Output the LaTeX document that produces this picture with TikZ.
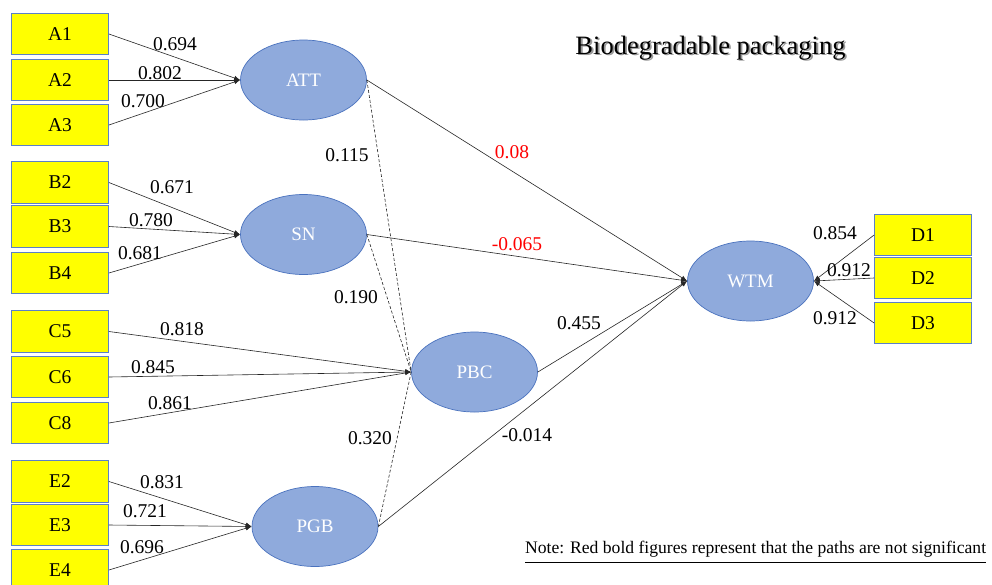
\documentclass[tikz,border=0pt]{standalone}
\usepackage{fontspec}
\setmainfont{Liberation Serif}
\usetikzlibrary{shapes.geometric,arrows.meta}
\definecolor{boxyellow}{HTML}{FFFF00}
\definecolor{boxborder}{HTML}{5B80C8}
\definecolor{ellfill}{HTML}{8FAADC}
\definecolor{ellborder}{HTML}{4A72BE}
\definecolor{sigred}{HTML}{FF0000}
\begin{document}
\begin{tikzpicture}[x=1pt,y=-1pt,
  ind/.style={draw=boxborder,fill=boxyellow,line width=0.8pt,minimum width=97pt,minimum height=41.5pt,inner sep=0pt,font=\fontsize{19.5}{21}\selectfont},
  lat/.style={ellipse,draw=ellborder,fill=ellfill,line width=0.7pt,minimum width=126pt,minimum height=80pt,inner sep=0pt,text=white,font=\fontsize{19}{21}\selectfont},
  conn/.style={draw=black!85,line width=0.6pt,-{Latex[length=6pt,width=4.5pt]}},
  dconn/.style={draw=black!85,line width=0.6pt,dash pattern=on 3pt off 2pt},
  lbl/.style={inner sep=0pt,font=\fontsize{19.5}{21}\selectfont},
  rlbl/.style={lbl,text=sigred}
]
\clip (0,0) rectangle (992,584);
\fill[white] (0,0) rectangle (992,584);

% indicators
\node[ind] (A1) at (60,34) {A1};
\node[ind] (A2) at (60,80) {A2};
\node[ind] (A3) at (60,125) {A3};
\node[ind] (B2) at (60,182.5) {B2};
\node[ind] (B3) at (60,226.5) {B3};
\node[ind] (B4) at (60,273) {B4};
\node[ind] (C5) at (60,331.5) {C5};
\node[ind] (C6) at (60,377) {C6};
\node[ind] (C8) at (60,423) {C8};
\node[ind] (E2) at (60,481.5) {E2};
\node[ind] (E3) at (60,525) {E3};
\node[ind] (E4) at (60,570) {E4};
\node[ind] (D1) at (923,235) {D1};
\node[ind] (D2) at (923,278) {D2};
\node[ind] (D3) at (923,323) {D3};

% latent variables
\node[lat] (ATT) at (303.5,80) {ATT};
\node[lat] (SN) at (303.5,234.5) {SN};
\node[lat] (PBC) at (474.5,372) {PBC};
\node[lat] (PGB) at (315,526.5) {PGB};
\node[lat] (WTM) at (750.5,281) {WTM};

% measurement arrows
\draw[conn] (A1.east) -- (ATT.west);
\draw[conn] (A2.east) -- (ATT.west);
\draw[conn] (A3.east) -- (ATT.west);
\draw[conn] (B2.east) -- (SN.west);
\draw[conn] (B3.east) -- (SN.west);
\draw[conn] (B4.east) -- (SN.west);
\draw[conn] (C5.east) -- (PBC.west);
\draw[conn] (C6.east) -- (PBC.west);
\draw[conn] (C8.east) -- (PBC.west);
\draw[conn] (E2.east) -- (PGB.west);
\draw[conn] (E3.east) -- (PGB.west);
\draw[conn] (E4.east) -- (PGB.west);
\draw[conn] (D1.west) -- (WTM.east);
\draw[conn] (D2.west) -- (WTM.east);
\draw[conn] (D3.west) -- (WTM.east);

% dashed links
\draw[dconn] (ATT.east) -- (PBC.west);
\draw[dconn] (SN.east) -- (PBC.west);
\draw[dconn] (PGB.east) -- (PBC.west);

% structural paths
\draw[conn] (ATT.east) -- (WTM.west);
\draw[conn] (SN.east) -- (WTM.west);
\draw[conn] (PBC.east) -- (WTM.west);
\draw[conn] (PGB.east) -- (WTM.west);

% loadings
\node[lbl] (l1) at (175,44) {0.694};
\node[lbl] (l2) at (160,73) {0.802};
\node[lbl] (l3) at (143,101) {0.700};
\node[lbl] (l4) at (172,187.5) {0.671};
\node[lbl] (l5) at (151,220) {0.780};
\node[lbl] (l6) at (140,253) {0.681};
\node[lbl] (l7) at (182,329) {0.818};
\node[lbl] (l8) at (153,367) {0.845};
\node[lbl] (l9) at (170,403) {0.861};
\node[lbl] (l10) at (162,482) {0.831};
\node[lbl] (l11) at (145,511.5) {0.721};
\node[lbl] (l12) at (142,547.5) {0.696};
\node[lbl] (l13) at (835,233) {0.854};
\node[lbl] (l14) at (849,270) {0.912};
\node[lbl] (l15) at (835,318) {0.912};

% path coefficients
\node[lbl] (p1) at (347,155) {0.115};
\node[lbl] (p2) at (356,297) {0.190};
\node[lbl] (p3) at (370,438) {0.320};
\node[rlbl] (p4) at (512,152) {0.08};
\node[rlbl] (p5) at (517,244) {-0.065};
\node[lbl] (p6) at (579,323) {0.455};
\node[lbl] (p7) at (527,435) {-0.014};

% title with shadow
\node[inner sep=0pt,font=\fontsize{26.5}{29}\selectfont,text=black!40] (tshadow) at (712.3,49.3) {Biodegradable packaging};
\node[inner sep=0pt,font=\fontsize{26.5}{29}\selectfont] (title) at (710.5,48) {Biodegradable packaging};

% note
\node[inner sep=0pt,anchor=base west,font=\fontsize{17.6}{19}\selectfont] (note) at (525,553) {Note: Red bold figures represent that the paths are not significant};
\draw[line width=0.6pt] ([yshift=-5pt]note.south west) -- ([yshift=-5pt]note.south east);
\end{tikzpicture}
\end{document}
